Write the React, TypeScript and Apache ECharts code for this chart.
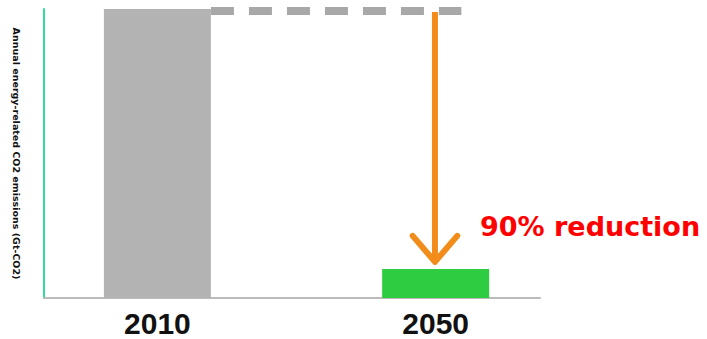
import React, { useEffect, useRef } from "react";
import * as echarts from "echarts";

const years = [2010, 2050];
const emissions = [100, 10];
const barColors = ["#b3b3b3", "#2ecc40"];
const baselineLevel = 99.3;
const dashFrom = 2017.7;
const dashTo = 2053.7;
const arrowX = 2049.9;
const arrowTop = 99.0;
const arrowTip = 12.5;
const arrowHeadHalf = 3.2;
const arrowHeadRise = 9;
const yAxisTitle = "Annual energy-related CO2 emissions (Gt-CO2)";
const reductionText = "90% reduction";

export default function App() {
  const ref = useRef<HTMLDivElement>(null);
  useEffect(() => {
    if (!ref.current) return;
    const chart = echarts.init(ref.current, null, { renderer: "svg" });
    chart.setOption({
      animation: false,
      grid: { left: 44, right: 167, top: 9, bottom: 41 },
      xAxis: {
        type: "value",
        min: 1993.7,
        max: 2065,
        axisLine: { show: true, lineStyle: { color: "#bbbbbb", width: 2 } },
        axisTick: { show: false },
        splitLine: { show: false },
        axisLabel: {
          customValues: years,
          formatter: (v: number) => String(v),
          fontFamily: "Liberation Sans",
          fontWeight: "bold",
          fontSize: 30,
          lineHeight: 30,
          color: "#111111",
          margin: 10,
        },
      },
      yAxis: {
        type: "value",
        min: 0,
        max: 100,
        name: yAxisTitle,
        nameLocation: "middle",
        nameRotate: -90,
        nameGap: 23,
        nameTextStyle: {
          fontFamily: "DejaVu Sans",
          fontWeight: "bold",
          fontSize: 9.5,
          color: "#111111",
        },
        axisLine: { show: true, lineStyle: { color: "#2fdc9c", width: 2 } },
        axisTick: { show: false },
        axisLabel: { show: false },
        splitLine: { show: false },
      },
      series: [
        {
          type: "bar",
          barWidth: 107,
          data: years.map((y, i) => ({
            value: [y, emissions[i]],
            itemStyle: { color: barColors[i] },
          })),
        },
        {
          type: "line",
          symbol: "none",
          data: [
            [dashFrom, baselineLevel],
            [dashTo, baselineLevel],
          ],
          lineStyle: { color: "#a8a8a8", width: 8, type: [23, 15] },
        },
        {
          type: "line",
          symbol: "none",
          data: [
            [arrowX, arrowTop],
            [arrowX, arrowTip],
          ],
          lineStyle: { color: "#f28c1a", width: 6 },
        },
        {
          type: "line",
          symbol: "none",
          data: [
            [arrowX - arrowHeadHalf, arrowTip + arrowHeadRise],
            [arrowX, arrowTip],
            [arrowX + arrowHeadHalf, arrowTip + arrowHeadRise],
          ],
          lineStyle: { color: "#f28c1a", width: 6, cap: "round", join: "round" },
        },
      ],
      graphic: [
        {
          type: "text",
          left: 480,
          top: 213,
          style: {
            text: reductionText,
            fill: "#ff0000",
            font: "bold 27px 'DejaVu Sans'",
          },
        },
      ],
    });
    return () => chart.dispose();
  }, []);
  return <div ref={ref} style={{ width: 707, height: 339, position: "absolute", left: 0, top: 0 }} />;
}
